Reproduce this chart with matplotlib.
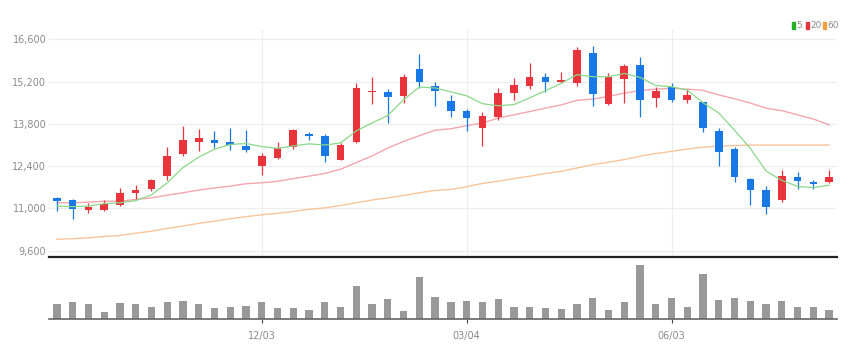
import matplotlib
matplotlib.use('Agg')
import matplotlib.pyplot as plt
from matplotlib.patches import Rectangle

# daily candles
opens = [11340, 11280, 10940, 10950, 11110, 11520, 11660, 12070, 12810, 13210,
         13280, 13190, 13080, 12400, 12670, 13040, 13480, 13410, 12620, 13190,
         14850, 14870, 14710, 15620, 15040, 14570, 14240, 13660, 14030, 14820,
         15060, 15340, 15190, 15170, 16160, 14470, 15280, 15750, 14650, 15010,
         14600, 14520, 13550, 12970, 11990, 11610, 11280, 12040, 11870, 11870]
closes = [11250, 10990, 11050, 11160, 11510, 11620, 11940, 12750, 13260, 13320,
          13170, 13090, 12930, 12750, 13010, 13590, 13410, 12730, 13110, 14990,
          14880, 14690, 15340, 15180, 14880, 14240, 13990, 14050, 14820, 15090,
          15350, 15200, 15260, 16230, 14790, 15340, 15730, 14600, 14900, 14600,
          14760, 13660, 12860, 12050, 11610, 11050, 12070, 11900, 11820, 12040]
highs = [11380, 11300, 11170, 11280, 11680, 11770, 11990, 13040, 13720, 13630,
         13550, 13660, 13610, 12840, 13200, 13640, 13520, 13450, 13170, 15170,
         15340, 14950, 15460, 16120, 15200, 14760, 14290, 14210, 14980, 15310,
         15810, 15480, 15510, 16340, 16390, 15480, 15780, 16030, 15010, 15170,
         14950, 14540, 13660, 13030, 12020, 11760, 12260, 12200, 11930, 12260]
lows = [10910, 10660, 10860, 10910, 11080, 11300, 11570, 11940, 12730, 12890,
        13000, 12930, 12860, 12100, 12640, 12980, 13280, 12540, 12600, 13170,
        14470, 13830, 14490, 14980, 14380, 14030, 13550, 13060, 13920, 14580,
        14950, 14840, 15150, 15060, 14380, 14430, 14490, 14030, 14360, 14520,
        14490, 13530, 12400, 11870, 11130, 10830, 11210, 11630, 11630, 11830]

ma5 = [11080, 11060, 11080, 11160, 11190, 11260, 11450, 11850, 12350, 12700,
       12960, 13120, 13150, 13050, 12990, 13070, 13140, 13100, 13170, 13570,
       13830, 14080, 14600, 15020, 14990, 14860, 14730, 14470, 14400, 14440,
       14660, 14900, 15140, 15430, 15360, 15360, 15470, 15340, 15070, 15030,
       14920, 14500, 14160, 13590, 12990, 12240, 11930, 11730, 11690, 11770]
ma20 = [11190, 11190, 11210, 11240, 11240, 11300, 11350, 11440, 11520, 11610,
        11680, 11740, 11820, 11850, 11900, 11990, 12070, 12160, 12300, 12520,
        12740, 13000, 13220, 13410, 13590, 13640, 13740, 13830, 13990, 14100,
        14210, 14320, 14430, 14580, 14620, 14710, 14820, 14900, 14950, 14980,
        14950, 14910, 14760, 14630, 14490, 14320, 14240, 14100, 13960, 13770]
ma60 = [9980, 10000, 10030, 10070, 10110, 10180, 10250, 10340, 10420, 10510,
        10580, 10660, 10730, 10790, 10840, 10900, 10970, 11020, 11100, 11190,
        11280, 11350, 11430, 11520, 11600, 11630, 11720, 11830, 11900, 11990,
        12070, 12160, 12230, 12340, 12450, 12530, 12620, 12730, 12820, 12890,
        12970, 13030, 13060, 13080, 13100, 13100, 13100, 13100, 13100, 13100]

volumes = [440000, 500000, 440000, 220000, 470000, 440000, 370000, 520000, 540000, 440000,
           320000, 370000, 390000, 520000, 320000, 320000, 270000, 520000, 370000, 990000,
           440000, 590000, 250000, 1270000, 670000, 500000, 540000, 500000, 590000, 370000,
           370000, 340000, 290000, 440000, 640000, 270000, 500000, 1620000, 440000, 640000,
           370000, 1370000, 570000, 640000, 540000, 440000, 540000, 370000, 350000, 270000]

tick_pos = [13, 26, 39]
tick_labels = ['12/03', '03/04', '06/03']
price_ticks = [9600, 11000, 12400, 13800, 15200, 16600]

UP = '#e8343a'
DOWN = '#1878e6'
W, H = 862, 358

plt.rcParams['font.family'] = ['Liberation Sans Narrow', 'DejaVu Sans']

fig = plt.figure(figsize=(W / 100, H / 100), dpi=100)
ax = fig.add_axes([49 / W, 1 - 257 / H, 788 / W, 227 / H])
axv = fig.add_axes([49 / W, 1 - 319 / H, 788 / W, 57 / H])

x = list(range(len(closes)))

# price panel
for i in x:
    color = UP if closes[i] >= opens[i] else DOWN
    ax.vlines(i, lows[i], highs[i], color=color, linewidth=0.9, zorder=3)
    bottom = min(opens[i], closes[i])
    height = max(abs(closes[i] - opens[i]), 25)
    ax.bar(i, height, bottom=bottom, width=0.48, color=color, zorder=4)

ax.plot(x, ma60, color='#f8c59a', linewidth=1.0, zorder=2)
ax.plot(x, ma20, color='#f4a6ae', linewidth=1.0, zorder=2)
ax.plot(x, ma5, color='#8ad88a', linewidth=0.9, zorder=5)

ax.set_xlim(-0.5, 49.5)
ax.set_ylim(9394, 16908)
ax.set_yticks(price_ticks)
ax.set_yticklabels(['{:,}'.format(v) for v in price_ticks])
ax.set_xticks(tick_pos)
ax.set_xticklabels([])
ax.tick_params(axis='both', length=0, labelsize=7, labelcolor='#8c8c8c', pad=2)
ax.grid(True, color='#eeeeee', linewidth=0.9, zorder=0)
ax.set_axisbelow(True)
for side in ['top', 'right', 'left']:
    ax.spines[side].set_visible(False)
ax.spines['bottom'].set_color('#222222')
ax.spines['bottom'].set_linewidth(1.6)

# volume panel
axv.bar(x, volumes, width=0.46, color='#999999', zorder=2)
axv.set_xlim(-0.5, 49.5)
axv.set_ylim(0, max(volumes) * 1.06)
axv.set_yticks([])
axv.set_xticks(tick_pos)
axv.set_xticklabels(tick_labels)
axv.tick_params(axis='x', length=3, width=0.8, color='#444444', labelsize=7,
                labelcolor='#8c8c8c', pad=6)
for side in ['top', 'right', 'left']:
    axv.spines[side].set_visible(False)
axv.spines['bottom'].set_color('#666666')
axv.spines['bottom'].set_linewidth(1.2)

# legend, top right
legend_items = [('5', '#22b022', 792), ('20', '#e8343a', 806), ('60', '#f0a040', 823)]
for label, color, px in legend_items:
    fig.add_artist(Rectangle((px / W, 1 - 29 / H), 3 / W, 7 / H,
                             transform=fig.transFigure, color=color))
    fig.text((px + 4) / W, 1 - 25.5 / H, label, fontsize=6.5, color='#8c8c8c',
             va='center', ha='left')

plt.savefig('out.png', dpi=100)
